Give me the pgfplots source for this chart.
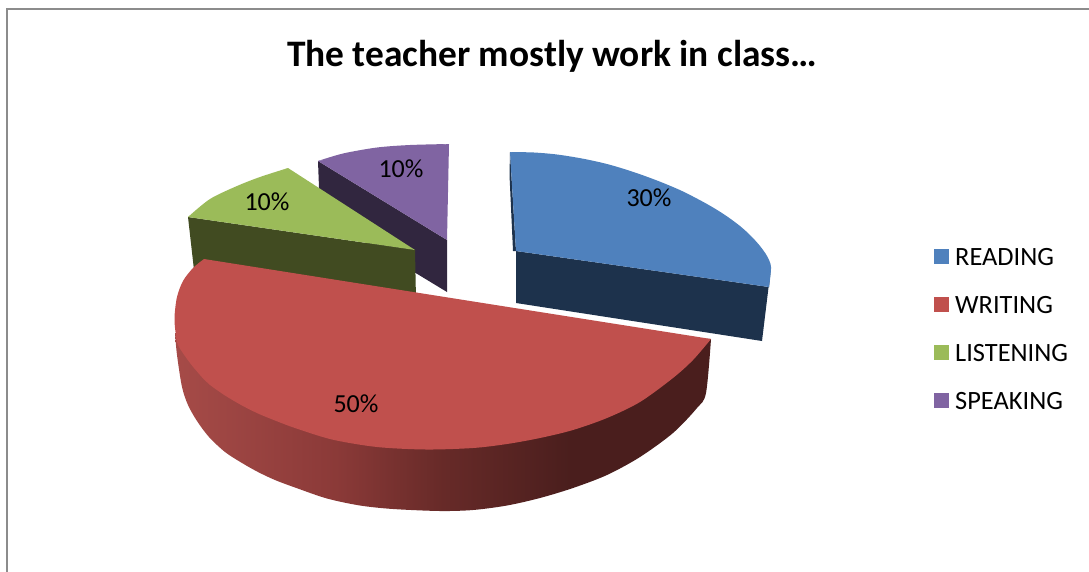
\documentclass[border=0pt]{standalone}
\usepackage{fontspec}
\setmainfont{Carlito}
\usepackage{pgfplots}
\pgfplotsset{compat=1.18}
\definecolor{cBlue}{HTML}{4F81BD}
\definecolor{cRed}{HTML}{C0504D}
\definecolor{cGreen}{HTML}{9BBB59}
\definecolor{cPurple}{HTML}{8064A2}
\definecolor{sBlue}{HTML}{1D324C}
\definecolor{sGreen}{HTML}{414B21}
\definecolor{sPurple}{HTML}{31263F}
\definecolor{frame}{HTML}{8C8C8C}
\pgfdeclarehorizontalshading{redside}{100bp}{
  rgb(0bp)=(0.651,0.294,0.282);
  rgb(25bp)=(0.651,0.294,0.282);
  rgb(40bp)=(0.545,0.227,0.220);
  rgb(50bp)=(0.404,0.165,0.157);
  rgb(62bp)=(0.290,0.118,0.114);
  rgb(75bp)=(0.290,0.118,0.114);
  rgb(100bp)=(0.290,0.118,0.114)}
\begin{document}
\begin{tikzpicture}
\useasboundingbox (0,0) rectangle (1089pt,571pt);
\begin{axis}[
  scale only axis, width=1089pt, height=571pt,
  xmin=0, xmax=1089, ymin=0, ymax=571, y dir=reverse,
  hide axis,
  title={The teacher mostly work in class…},
  title style={font=\fontsize{37.4}{44}\selectfont\bfseries, at={(0.507,0.89)}, anchor=center},
  legend style={at={(axis cs:934,247)}, anchor=north west, draw=none, fill=none,
    font=\fontsize{26.4}{30}\selectfont, row sep=30.3pt, inner sep=0pt, outer sep=0pt,
    cells={anchor=west}, nodes={inner sep=0pt, text depth=0pt, text height=18pt}},
  legend image code/.code={\fill[#1, draw=none] (0pt,-7.5pt) rectangle (15pt,7.5pt); \path (21pt,0pt);},
]
% frame
\addplot[frame, line width=2pt, forget plot] coordinates {(7,575) (7,9) (1095,9)};
% reading
\addplot[fill=sBlue, draw=none, forget plot] coordinates
  {(516,251) (769,287) (771,267) (762,341) (516,303)};
\addplot[fill=sBlue, draw=none, forget plot] coordinates
  {(510,152) (509.5,175) (513,251) (516,251)};
\addplot[fill=cBlue, draw=none, smooth, tension=.5, forget plot] coordinates
  {(510,152) (534,152.5) (557,154.5) (582,158.5) (607,164) (632,171.5) (657,180.5) (682,191) (707,204)
   (725,215) (740,226) (751,236) (760,246) (767,256) (771,267) (769,287)};
\addplot[fill=cBlue, draw=none, forget plot] coordinates
  {(510,152) (640,190) (769,287) (516,251)};
% speaking
\addplot[fill=sPurple, draw=none, forget plot] coordinates
  {(318,161) (447,240) (447,292) (320,215)};
\addplot[fill=cPurple, draw=none, smooth, tension=.5, forget plot] coordinates
  {(318,161) (343,153.5) (377,147.5) (410,145) (449,144)};
\addplot[fill=cPurple, draw=none, forget plot] coordinates
  {(318,161) (380,150) (449,144) (447,240)};
% listening
\addplot[fill=sGreen, draw=none, forget plot] coordinates
  {(188,217) (415,250) (416,300) (194,270)};
\addplot[fill=cGreen, draw=none, smooth, tension=.5, forget plot] coordinates
  {(288,168) (260,177) (237,186) (210,199) (188,217)};
\addplot[fill=cGreen, draw=none, forget plot] coordinates
  {(288,168) (238,189) (188,217) (415,250)};
% writing
\addplot[shading=redside, draw=none, smooth, tension=.5, forget plot] coordinates
  {(175,333) (177,355) (182,387) (188,405) (197,421) (209,437) (225,452) (242,463) (258,472) (275,480)
   (295,487.5) (327,498.5) (360,505.5) (393,509) (440,511) (473,510) (507,505.5) (540,498) (573,488)
   (607,475) (640,457) (673,433) (697,408) (706,393) (711,339)};
\addplot[fill=cRed, draw=none, smooth, tension=.5, forget plot] coordinates
  {(204,259) (193,268) (183,281) (177,297) (174.5,317) (175.5,332) (178,345) (190,363) (204,379.5)
   (210,385) (225,395.5) (242,405.5) (258,413.5) (275,420.5) (295,428) (332,439.5) (377,447) (426,449.5)
   (473,448) (507,444) (540,438) (573,430) (607,418) (640,402) (673,378) (693,360) (711,339)};
% legend
\addlegendimage{fill=cBlue}
\addlegendentry{READING}
\addlegendimage{fill=cRed}
\addlegendentry{WRITING}
\addlegendimage{fill=cGreen}
\addlegendentry{LISTENING}
\addlegendimage{fill=cPurple}
\addlegendentry{SPEAKING}
% data labels
\node[font=\fontsize{26}{30}\selectfont] at (axis cs:649,198) {30\%};
\node[font=\fontsize{26}{30}\selectfont] at (axis cs:356,404) {50\%};
\node[font=\fontsize{26}{30}\selectfont] at (axis cs:267,202) {10\%};
\node[font=\fontsize{26}{30}\selectfont] at (axis cs:401,169) {10\%};
\end{axis}
\end{tikzpicture}
\end{document}
